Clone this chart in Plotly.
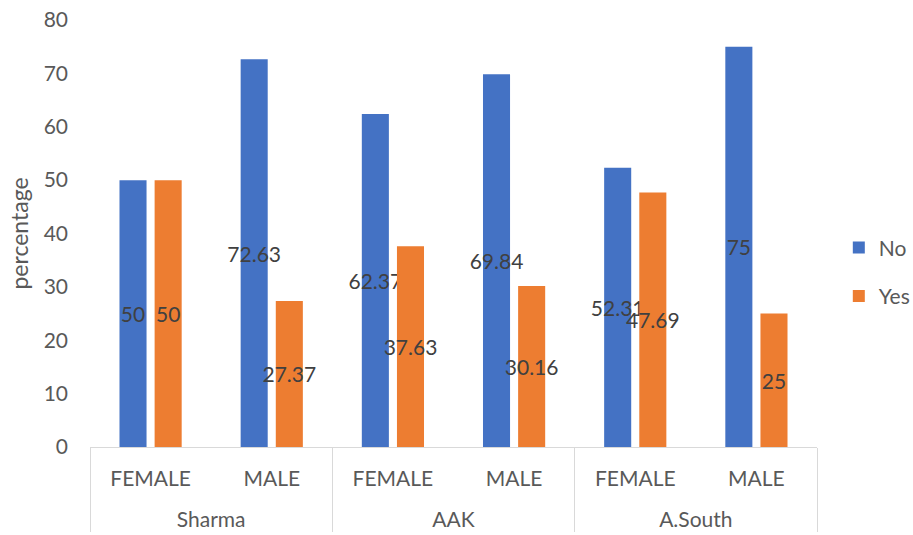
import plotly.graph_objects as go

groups = ["Sharma", "Sharma", "AAK", "AAK", "A.South", "A.South"]
genders = ["FEMALE", "MALE", "FEMALE", "MALE", "FEMALE", "MALE"]
no_vals = [50, 72.63, 62.37, 69.84, 52.31, 75]
yes_vals = [50, 27.37, 37.63, 30.16, 47.69, 25]

FONT = "Lato"
FS = 21
gender_labels = [g + "<br> " for g in genders]

fig = go.Figure()
for name, vals, color in [("No", no_vals, "#4472C4"), ("Yes", yes_vals, "#ED7D31")]:
    fig.add_trace(go.Bar(
        x=[groups, gender_labels], y=vals, name=name, legendgroup=name,
        marker=dict(color=color, line=dict(width=0)),
        text=[f"{v:g}" for v in vals], textposition="inside",
        insidetextanchor="middle", textangle=0,
        insidetextfont=dict(color="#404040", size=FS, family=FONT),
        cliponaxis=False,
    ))

fig.update_layout(
    width=913, height=535,
    margin=dict(l=90, r=96, t=20, b=88, autoexpand=False),
    paper_bgcolor="white", plot_bgcolor="white",
    barmode="group", bargap=0.42, bargroupgap=0.23,
    uniformtext=dict(minsize=FS, mode="show"),
    font=dict(family=FONT, size=FS, color="#595959"),
    showlegend=True,
    legend=dict(x=1.03, y=0.41, yanchor="middle", xanchor="left",
                tracegroupgap=18, font=dict(size=FS, color="#595959")),
    xaxis=dict(type="multicategory", showdividers=True, dividercolor="#D9D9D9",
               dividerwidth=1, showline=True, linecolor="#D9D9D9", linewidth=1,
               tickfont=dict(size=FS, color="#595959"), showgrid=False, ticks="",
               ticklabelstandoff=13),
    yaxis=dict(range=[0, 80], dtick=10, showgrid=False, zeroline=False, showline=False,
               tickfont=dict(size=FS, color="#595959"), ticks="", ticklabelstandoff=21,
               title=dict(text="percentage", font=dict(size=23, color="#595959"), standoff=8)),
)
fig.write_html("out.html")
